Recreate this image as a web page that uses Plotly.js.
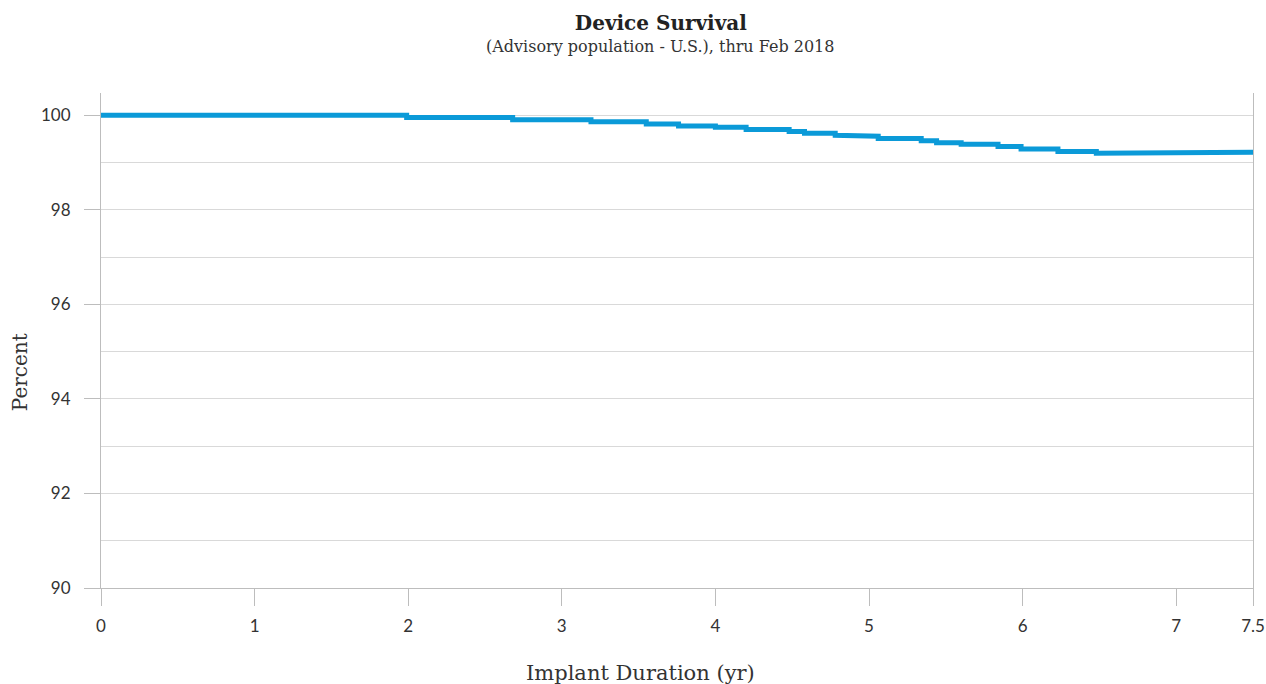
<!DOCTYPE html>
<html>
<head>
<meta charset="utf-8">
<script src="https://cdn.plot.ly/plotly-3.0.1.min.js"></script>
<style>
  html, body { margin: 0; padding: 0; background: #ffffff; }
  #chart { width: 1266px; height: 684px; }
</style>
</head>
<body>
<div id="chart"></div>
<script>
// Step times (years) where survival changes, and survival value (%) from that time on
const stepTimes = [0, 1.99, 2.68, 3.19, 3.55, 3.76, 4.00, 4.20, 4.48, 4.58, 4.78, 4.95, 5.06, 5.34, 5.44, 5.60, 5.84, 5.99, 6.23, 6.48];
const survival  = [100, 99.951, 99.903, 99.860, 99.814, 99.772, 99.744, 99.698, 99.655, 99.619, 99.577, 99.554, 99.507, 99.459, 99.416, 99.387, 99.338, 99.285, 99.233, 99.197];
// Tail of the curve after the last step
const tailTimes = [7.0, 7.5];
const tailValues = [99.197, 99.218];

const xTickVals = [0, 1, 2, 3, 4, 5, 6, 7, 7.5];
const xTickText = ['0', '1', '2', '3', '4', '5', '6', '7', '7.5'];
const yTickVals = [90, 92, 94, 96, 98, 100];

// Build step path (corner points) from the step data
const xs = [], ys = [];
for (let i = 0; i < stepTimes.length; i++) {
  if (i > 0) { xs.push(stepTimes[i]); ys.push(survival[i - 1]); }
  xs.push(stepTimes[i]); ys.push(survival[i]);
}
for (let j = 0; j < tailTimes.length; j++) { xs.push(tailTimes[j]); ys.push(tailValues[j]); }

const trace = {
  x: xs, y: ys, type: 'scatter', mode: 'lines',
  line: { color: '#0b9ad8', width: 5, shape: 'linear' },
  hoverinfo: 'skip', showlegend: false
};

const tickFont = { family: 'Lato, "Open Sans", sans-serif', size: 17, color: '#333333' };
const serif = '"DejaVu Serif", "Liberation Serif", serif';

const layout = {
  width: 1266, height: 684,
  paper_bgcolor: '#ffffff', plot_bgcolor: '#ffffff',
  margin: { l: 101, r: 13, t: 93, b: 96, pad: 0 },
  showlegend: false,
  title: {
    text: '<b>Device Survival</b>',
    font: { family: serif, size: 20, color: '#222222' },
    x: 0.522, xanchor: 'center', xref: 'container',
    y: 0.966, yanchor: 'middle', yref: 'container'
  },
  xaxis: {
    range: [0, 7.5],
    tickvals: xTickVals, ticktext: xTickText,
    ticks: 'outside', ticklen: 17, tickcolor: '#bdbdbd', tickwidth: 1,
    showgrid: false, zeroline: false,
    showline: true, linecolor: '#bdbdbd', linewidth: 1,
    tickfont: tickFont, ticklabelstandoff: 6
  },
  yaxis: {
    range: [90, 100.47],
    tickvals: yTickVals,
    ticks: 'outside', ticklen: 16, tickcolor: '#bdbdbd', tickwidth: 1,
    showgrid: true, gridcolor: '#d9d9d9', gridwidth: 1,
    minor: { dtick: 1, tick0: 0, showgrid: true, gridcolor: '#d9d9d9', gridwidth: 1, ticks: '' },
    zeroline: false,
    showline: true, linecolor: '#bdbdbd', linewidth: 1, mirror: true,
    tickfont: tickFont, ticklabelstandoff: 10
  },
  annotations: [
    {
      text: '(Advisory population - U.S.), thru Feb 2018',
      xref: 'paper', yref: 'paper', x: 0.485, y: 1, yshift: 47, showarrow: false,
      xanchor: 'center', yanchor: 'middle',
      font: { family: serif, size: 16, color: '#333333' }
    },
    {
      text: 'Implant Duration (yr)',
      xref: 'paper', yref: 'paper', x: 0.468, y: 0, yshift: -85, showarrow: false,
      xanchor: 'center', yanchor: 'middle',
      font: { family: serif, size: 21, color: '#333333' }
    },
    {
      text: 'Percent',
      xref: 'paper', yref: 'paper', x: 0, xshift: -81, y: 0.436, showarrow: false,
      textangle: -90, xanchor: 'center', yanchor: 'middle',
      font: { family: serif, size: 20, color: '#333333' }
    }
  ]
};

Plotly.newPlot('chart', [trace], layout, { displayModeBar: false, staticPlot: true });
</script>
</body>
</html>
